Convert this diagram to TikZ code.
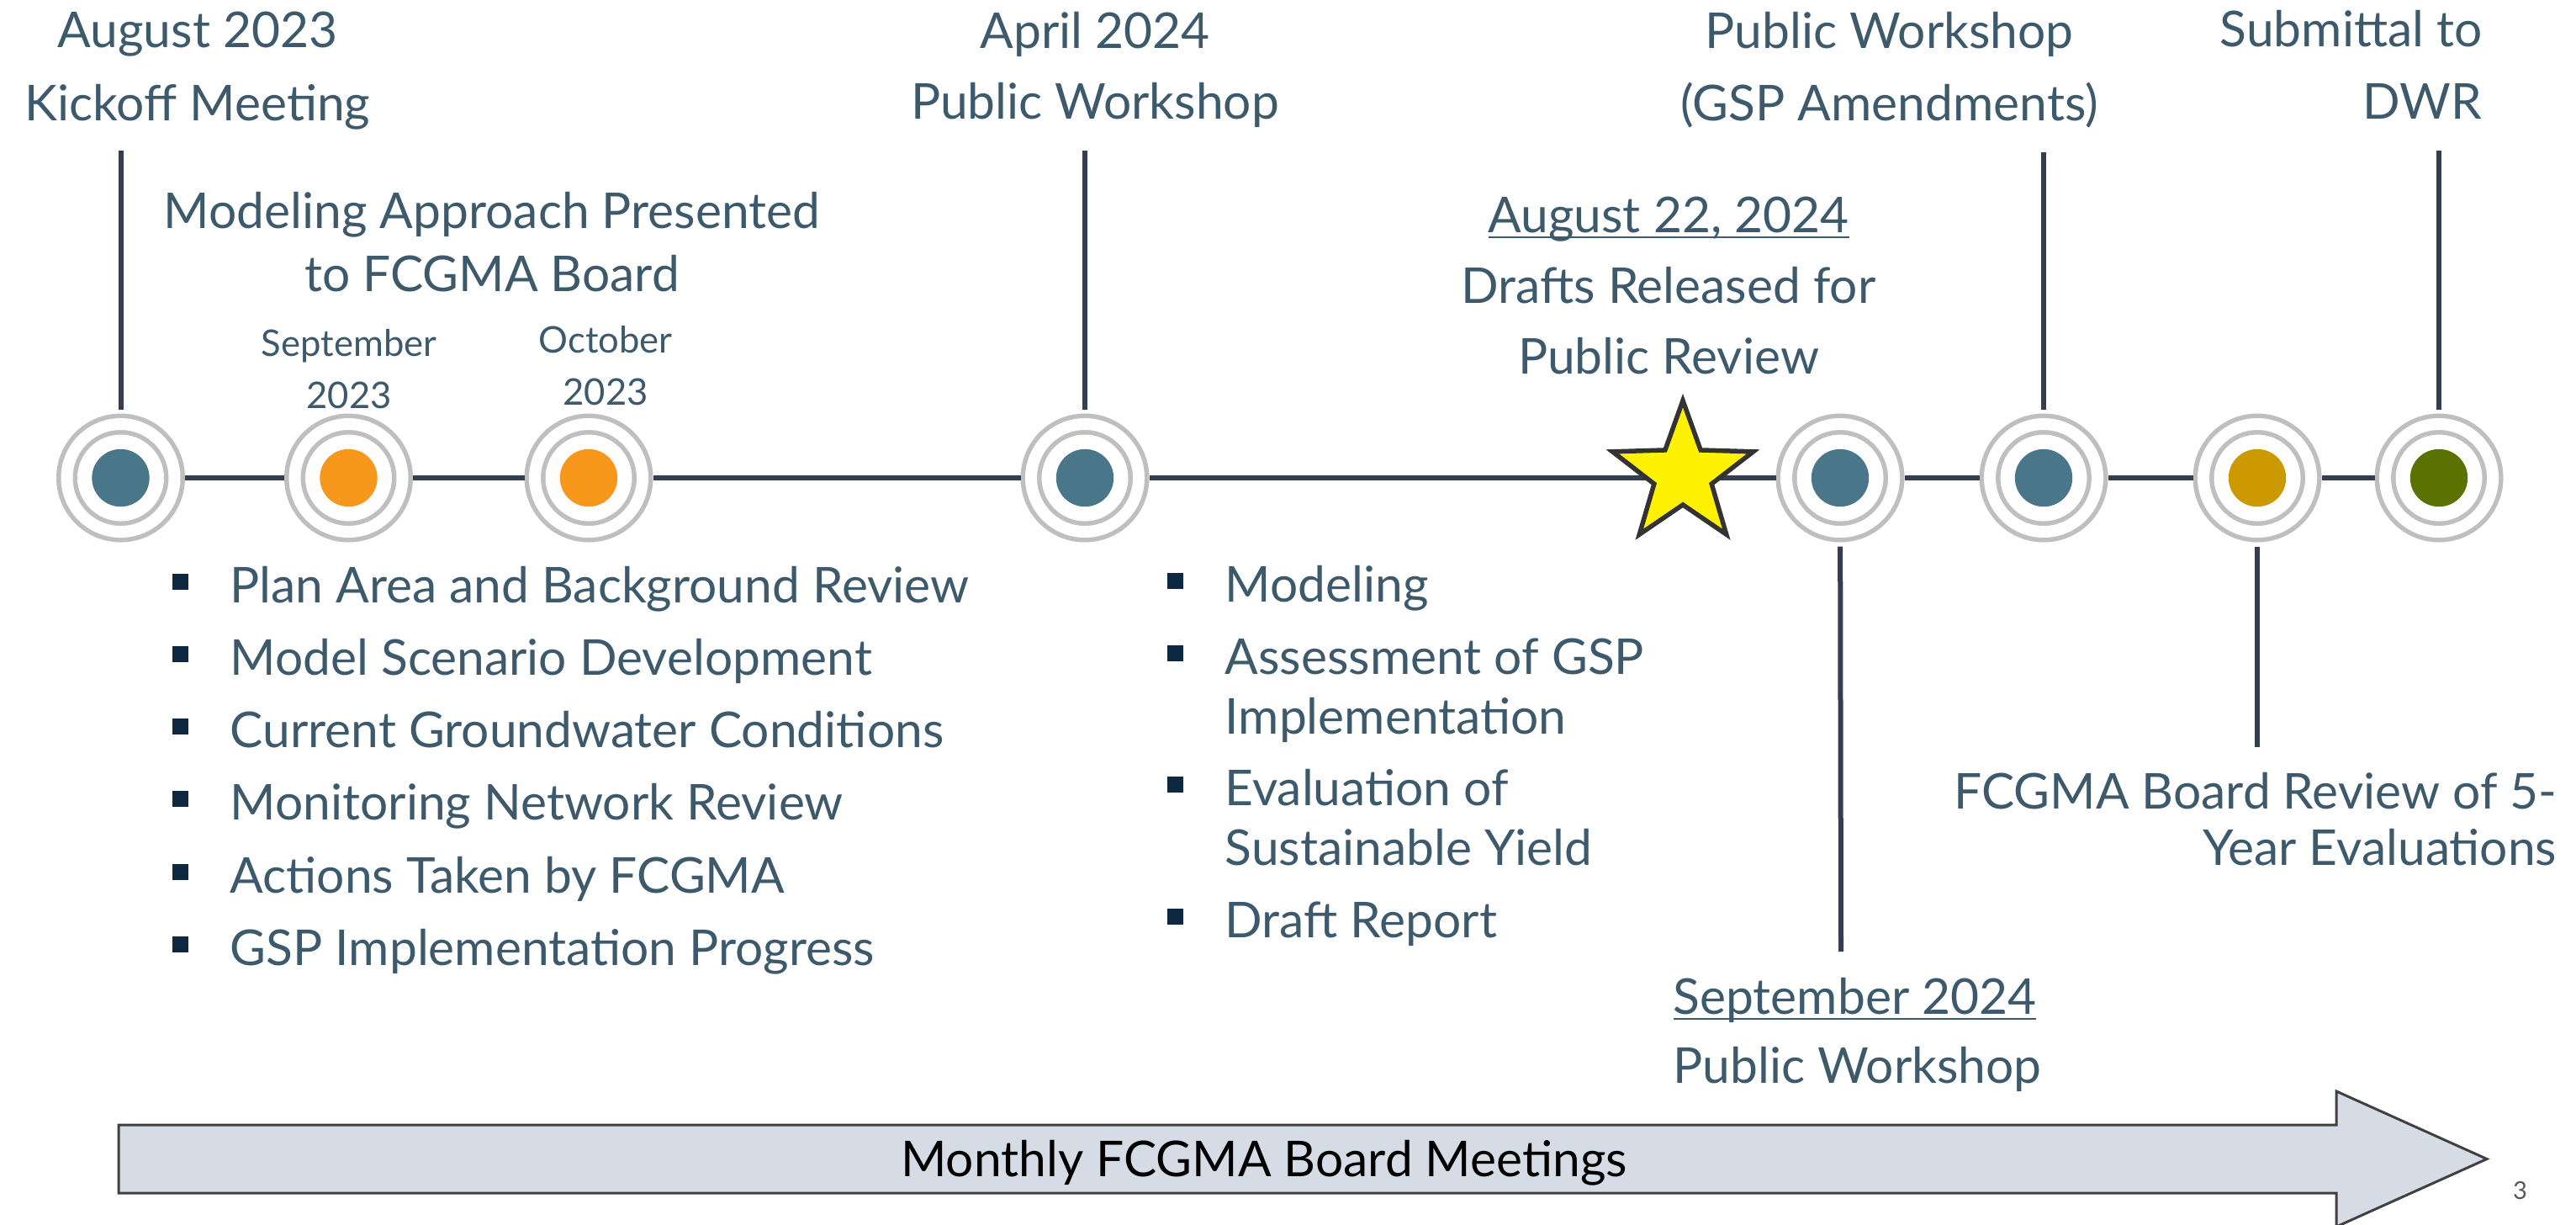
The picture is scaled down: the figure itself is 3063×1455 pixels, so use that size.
\documentclass[tikz,border=0pt]{standalone}
\usepackage{fontspec}
\setmainfont{Lato}
\usetikzlibrary{shapes.geometric,positioning}

\definecolor{slate}{RGB}{61,90,108}
\definecolor{tline}{RGB}{51,63,80}
\definecolor{ringgray}{RGB}{191,191,191}
\definecolor{dotblue}{RGB}{74,118,137}
\definecolor{dotorange}{RGB}{247,152,29}
\definecolor{dotgold}{RGB}{204,153,0}
\definecolor{dotgreen}{RGB}{91,113,0}
\definecolor{bulletnavy}{RGB}{14,40,65}
\definecolor{arrowfill}{RGB}{214,220,229}
\definecolor{arrowedge}{RGB}{64,64,64}

% underline that sits close to the baseline
\newcommand\udate[1]{\setbox0\hbox{#1}\rlap{\rule[-0.12em]{\wd0}{0.03em}}\box0}

\begin{document}
\begin{tikzpicture}[x=0.1mm,y=-0.1mm,
    mile/.style={circle,minimum size=12.8mm,inner sep=0pt,outer sep=1.25mm,
        draw=ringgray,line width=0.55mm,double=white,double distance=1.4mm,
        path picture={\fill[#1] (path picture bounding box.center) circle (3.42mm);}},
    link/.style={draw=tline,line width=0.6mm},
    lbl/.style={text=slate,inner sep=0pt,anchor=base,align=center},
    sqbul/.style={rectangle,fill=bulletnavy,minimum size=1.9mm,inner sep=0pt}]
    \useasboundingbox (0,0) rectangle (3063,1455);

    % milestones on the time line
    \node [mile=dotblue] (aug23) at (143.5,568) {};
    \node [mile=dotorange] (sep23) at (414.5,568) {};
    \node [mile=dotorange] (oct23) at (700,568) {};
    \node [mile=dotblue] (apr24) at (1290,568) {};
    \node [mile=dotblue] (sep24) at (2188,568) {};
    \node [mile=dotblue] (gsp) at (2430,568) {};
    \node [mile=dotgold] (board) at (2684,568) {};
    \node [mile=dotgreen] (dwr) at (2900,568) {};
    \draw [link] (aug23) -- (sep23) -- (oct23) -- (apr24) -- (sep24) -- (gsp) -- (board) -- (dwr);
    \node [star,star points=5,star point ratio=2.45,minimum size=17.6mm,inner sep=0pt,
        fill=yellow,draw=black!80,line width=0.55mm] (drafts) at (2001,564) {};

    % leader lines
    \coordinate (aug23 top) at (143.5,179);
    \coordinate (apr24 top) at (1290,179);
    \coordinate (gsp top) at (2430,181);
    \coordinate (dwr top) at (2900,179);
    \coordinate (sep24 end) at (2189,1131);
    \coordinate (board end) at (2684,888);
    \foreach \m in {aug23,apr24,gsp,dwr}
        \draw [link,shorten <=0.5mm] (\m) -- (\m\space top);
    \draw [link,shorten <=0.5mm] (sep24) -- (sep24 end);
    \draw [link,shorten <=0.5mm] (board) -- (board end);

    % labels above (placed on the baseline of their last line)
    \node [lbl,font=\fontsize{16.7}{24.7}\selectfont] (kickoff) at (235,143) {August 2023\\Kickoff Meeting};
    \node [lbl,font=\fontsize{16.7}{21.2}\selectfont] (approach) at (585,346) {Modeling Approach Presented\\to FCGMA Board};
    \node [lbl,font=\fontsize{12.4}{17.4}\selectfont] (sep23 lbl) at (415,485) {September\\2023};
    \node [lbl,font=\fontsize{12.4}{17.4}\selectfont] (oct23 lbl) at (720,481) {October\\2023};
    \node [lbl,font=\fontsize{16.7}{23.9}\selectfont] (apr24 lbl) at (1302,141) {April 2024\\Public Workshop};
    \node [lbl,font=\fontsize{16.7}{23.9}\selectfont] (drafts lbl) at (1984,444) {\udate{August 22, 2024}\\Drafts Released for\\Public Review};
    \node [lbl,font=\fontsize{16.7}{24.2}\selectfont] (gsp lbl) at (2246.5,143) {Public Workshop\\(GSP Amendments)};
    \node [lbl,anchor=base east,align=right,font=\fontsize{16.7}{24.2}\selectfont] (dwr lbl) at (2952,141) {Submittal to\\DWR};

    % labels below
    \node [lbl,anchor=base east,align=right,font=\fontsize{16.7}{19.1}\selectfont] (board lbl) at (3041,1028.5) {FCGMA Board Review of 5-\\Year Evaluations};
    \node [lbl,anchor=base west,align=left,font=\fontsize{16.7}{23.3}\selectfont] (sep24 lbl) at (1989,1287) {\udate{September 2024}\\Public Workshop};

    % task lists
    \foreach \t [count=\i] in {Plan Area and Background Review,Model Scenario Development,
        Current Groundwater Conditions,Monitoring Network Review,Actions Taken by FCGMA,
        GSP Implementation Progress} {
        \node [lbl,anchor=base west,align=left,font=\fontsize{16.7}{20.2}\selectfont] (task\i) at (273,716+86.3*\i-86.3) {\t};
        \node [sqbul] (tb\i) at (214.5,691+86.3*\i-86.3) {};
    }
    \foreach \y/\z/\t [count=\i] in {715/715/Modeling,801/872/{Assessment of GSP\\Implementation},
        957/1028.5/{Evaluation of\\Sustainable Yield},1114.6/1114.6/Draft Report} {
        \node [lbl,anchor=base west,align=left,font=\fontsize{16.7}{20.2}\selectfont] (step\i) at (1456,\z) {\t};
        \node [sqbul] (sb\i) at (1397.5,\y-25) {};
    }

    % board meetings arrow
    \draw [fill=arrowfill,draw=arrowedge,line width=0.3mm] (141,1337) -- (2778,1337) -- (2778,1297)
        -- (2957,1377.5) -- (2778,1458) -- (2778,1418) -- (141,1418) -- cycle;
    \node [lbl,text=black,font=\fontsize{16.7}{20}\selectfont] (meetings) at (1503,1398) {Monthly FCGMA Board Meetings};
    \node [lbl,text=black!65,font=\fontsize{8.3}{10}\selectfont] (page) at (2996.5,1425) {3};
\end{tikzpicture}
\end{document}
